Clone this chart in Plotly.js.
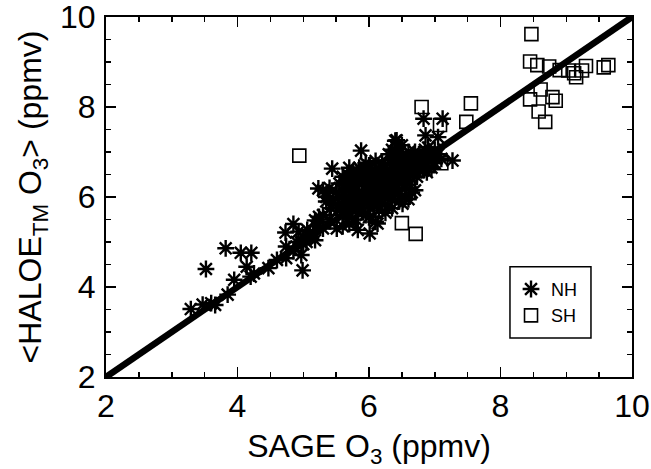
<!DOCTYPE html>
<html>
<head>
<meta charset="utf-8">
<script src="https://cdn.plot.ly/plotly-3.0.1.min.js"></script>
<style>html,body{margin:0;padding:0;background:#fff;}#chart{width:651px;height:469px;}</style>
</head>
<body>
<div id="chart"></div>
<script>
// NH (asterisks): SAGE O3 vs HALOE O3 (ppmv)
const nhX = [3.29,3.52,3.82,4.05,4.21,4.14,4.20,3.95,3.85,3.60,3.47,3.66,4.47,4.73,4.85,4.74,4.74,4.93,4.97,4.99,5.06,5.18,5.24,5.18,5.23,5.37,5.44,5.51,5.88,5.83,6.01,6.13,6.51,6.70,6.83,7.12,6.86,7.05,6.42,7.27,6.83,
  4.25,4.60,4.85,4.90,5.00,
  5.45,5.50,5.52,5.55,5.58,5.60,5.60,5.62,5.65,5.66,5.68,5.70,5.70,5.72,5.74,5.75,5.76,5.78,5.80,5.80,5.82,5.83,5.85,5.86,5.88,5.88,5.90,5.90,5.92,5.93,5.95,5.95,5.97,5.98,6.00,6.00,6.02,6.03,6.05,6.06,6.08,6.10,6.10,6.12,6.13,6.15,6.16,6.18,6.20,6.20,6.22,6.24,6.25,6.27,6.28,6.30,6.30,6.32,6.33,6.35,6.36,6.38,6.40,6.40,6.42,6.43,6.45,6.45,6.47,6.48,6.50,6.50,6.52,6.53,6.55,6.56,6.58,6.60,6.60,6.62,6.63,6.65,6.66,6.68,6.70,6.70,6.72,6.73,6.75,6.76,6.78,6.80,6.82,6.84,6.86,6.88,6.90,6.92,6.95,6.98,7.00,7.05,7.10,
  5.30,5.35,5.40,5.42,5.25,5.30,5.20,5.15,5.10,5.05,5.00,5.40,5.30,5.35,5.60,5.70,5.80,6.00,6.10,6.25,6.35,6.45,6.55,6.65,6.60,6.40,6.35,6.30,6.50,6.20,6.10,6.00,5.95,5.85,5.70,6.05,6.15,6.90,6.85,7.00,6.95,
  5.55,5.65,5.75,5.85,5.95,6.05,6.15,6.25,6.35,6.45,5.60,5.70,5.80,5.90,6.00,6.10,6.20,6.30,6.40,6.50,6.55,6.60,6.65,6.70,6.75,6.45,6.35,6.25,5.62,5.78,5.92,6.08,6.22,6.38];
const nhY = [3.51,4.40,4.86,4.76,4.76,4.45,4.23,4.16,3.83,3.64,3.61,3.60,4.42,5.21,5.40,4.90,4.64,5.23,4.71,4.37,5.27,5.48,5.56,5.04,6.19,6.08,6.63,5.30,7.03,5.27,5.19,5.41,5.85,6.15,7.74,7.74,7.37,7.33,7.26,6.81,6.59,
  4.30,4.60,4.80,5.00,4.95,
  5.95,6.10,5.70,6.30,5.85,6.45,5.60,6.05,5.75,6.20,6.50,5.90,5.55,6.35,6.10,5.70,6.55,6.00,5.80,6.25,6.40,5.65,6.10,5.95,6.60,5.75,6.30,6.00,5.85,6.45,6.15,5.60,6.05,6.35,5.90,6.20,5.75,6.50,6.05,6.30,5.85,6.15,6.60,5.95,6.40,5.70,6.25,6.05,6.50,5.85,6.20,6.35,6.00,6.60,5.80,6.30,6.10,6.75,5.95,6.45,6.20,6.90,6.05,6.60,7.10,6.35,6.80,6.15,7.00,6.50,6.30,6.70,6.90,6.45,6.60,6.20,6.80,6.55,7.00,6.35,6.70,6.90,6.50,6.75,6.60,7.00,6.85,6.45,6.70,6.95,6.60,6.80,6.65,6.90,6.75,6.55,6.85,7.00,6.80,6.90,6.75,6.95,6.85,
  5.60,5.90,5.50,5.75,5.45,5.30,5.35,5.20,5.15,5.00,5.10,6.20,6.15,6.00,5.35,5.40,5.50,5.55,5.45,5.65,5.75,5.90,6.00,6.10,5.95,7.25,7.05,6.95,7.15,6.75,6.80,6.70,6.75,6.65,6.65,6.55,6.60,7.10,7.05,7.05,6.65,
  6.00,6.15,6.25,6.35,6.45,6.40,6.30,6.45,6.55,6.70,5.80,5.85,5.95,6.10,6.05,6.00,6.10,6.20,6.30,6.40,6.45,6.65,6.80,6.90,6.85,6.95,6.85,6.70,6.35,6.45,6.55,6.45,6.40,6.50];
// SH (squares)
const shX = [8.47,8.45,8.56,8.74,8.90,9.03,9.12,9.15,9.24,9.30,9.57,9.64,8.61,8.45,8.79,8.84,8.58,8.68,4.94,6.80,7.55,7.48,7.08,7.10,6.50,6.71];
const shY = [9.62,9.01,8.93,8.90,8.82,8.81,8.75,8.66,8.81,8.91,8.88,8.93,8.39,8.17,8.22,8.14,7.90,7.67,6.92,8.00,8.08,7.67,7.60,6.75,5.42,5.18];
// 1:1 line
const lineX = [2, 10];
const lineY = [2, 10];

const font = {family: 'Arial, Liberation Sans, Helvetica, sans-serif', color: '#000'};

const traces = [
  {x: nhX, y: nhY, type: 'scatter', mode: 'markers', name: 'NH', cliponaxis: false,
   marker: {symbol: 'asterisk-open', size: 14, color: '#000', line: {color: '#000', width: 2.4}}},
  {x: shX, y: shY, type: 'scatter', mode: 'markers', name: 'SH',
   marker: {symbol: 'square-open', size: 13, color: '#000', line: {color: '#000', width: 1.6}}},
  {x: lineX, y: lineY, type: 'scatter', mode: 'lines', showlegend: false,
   line: {color: '#000', width: 6.5}}
];

const axisCommon = {
  range: [2, 10], dtick: 2, tick0: 2,
  ticks: 'inside', ticklen: 10, tickwidth: 1.5, tickcolor: '#000',
  minor: {dtick: 0.5, ticks: 'inside', ticklen: 5, tickwidth: 1.5, tickcolor: '#000'},
  showline: true, linewidth: 2, linecolor: '#000', mirror: 'ticks',
  showgrid: false, zeroline: false, ticklabeloverflow: 'allow',
  tickfont: Object.assign({size: 32}, font)
};

const layout = {
  width: 651, height: 469,
  margin: {l: 106, r: 19, t: 17, b: 92},
  paper_bgcolor: '#fff', plot_bgcolor: '#fff',
  font: font,
  xaxis: Object.assign({}, axisCommon, {
    title: {text: 'SAGE O<sub>3</sub> (ppmv)', font: Object.assign({size: 32}, font), standoff: 13}
  }),
  yaxis: Object.assign({}, axisCommon, {
    ticklabelstandoff: 2,
    title: {text: '&lt;HALOE<sub>TM</sub> O<sub>3</sub>&gt; (ppmv)', font: Object.assign({size: 32}, font), standoff: 9}
  }),
  showlegend: true,
  legend: {x: 0.77, xanchor: 'left', y: 0.295, yanchor: 'top', bgcolor: 'rgba(0,0,0,0)',
    borderwidth: 0, font: Object.assign({size: 18}, font), itemwidth: 30, tracegroupgap: 0},
  shapes: [{type: 'rect', xref: 'paper', yref: 'paper', x0: 0.768, x1: 0.922, y0: 0.108, y1: 0.306,
    line: {color: '#000', width: 1.5}, fillcolor: 'rgba(0,0,0,0)', layer: 'above'}]
};

Plotly.newPlot('chart', traces, layout, {displayModeBar: false, staticPlot: true});
</script>
</body>
</html>
